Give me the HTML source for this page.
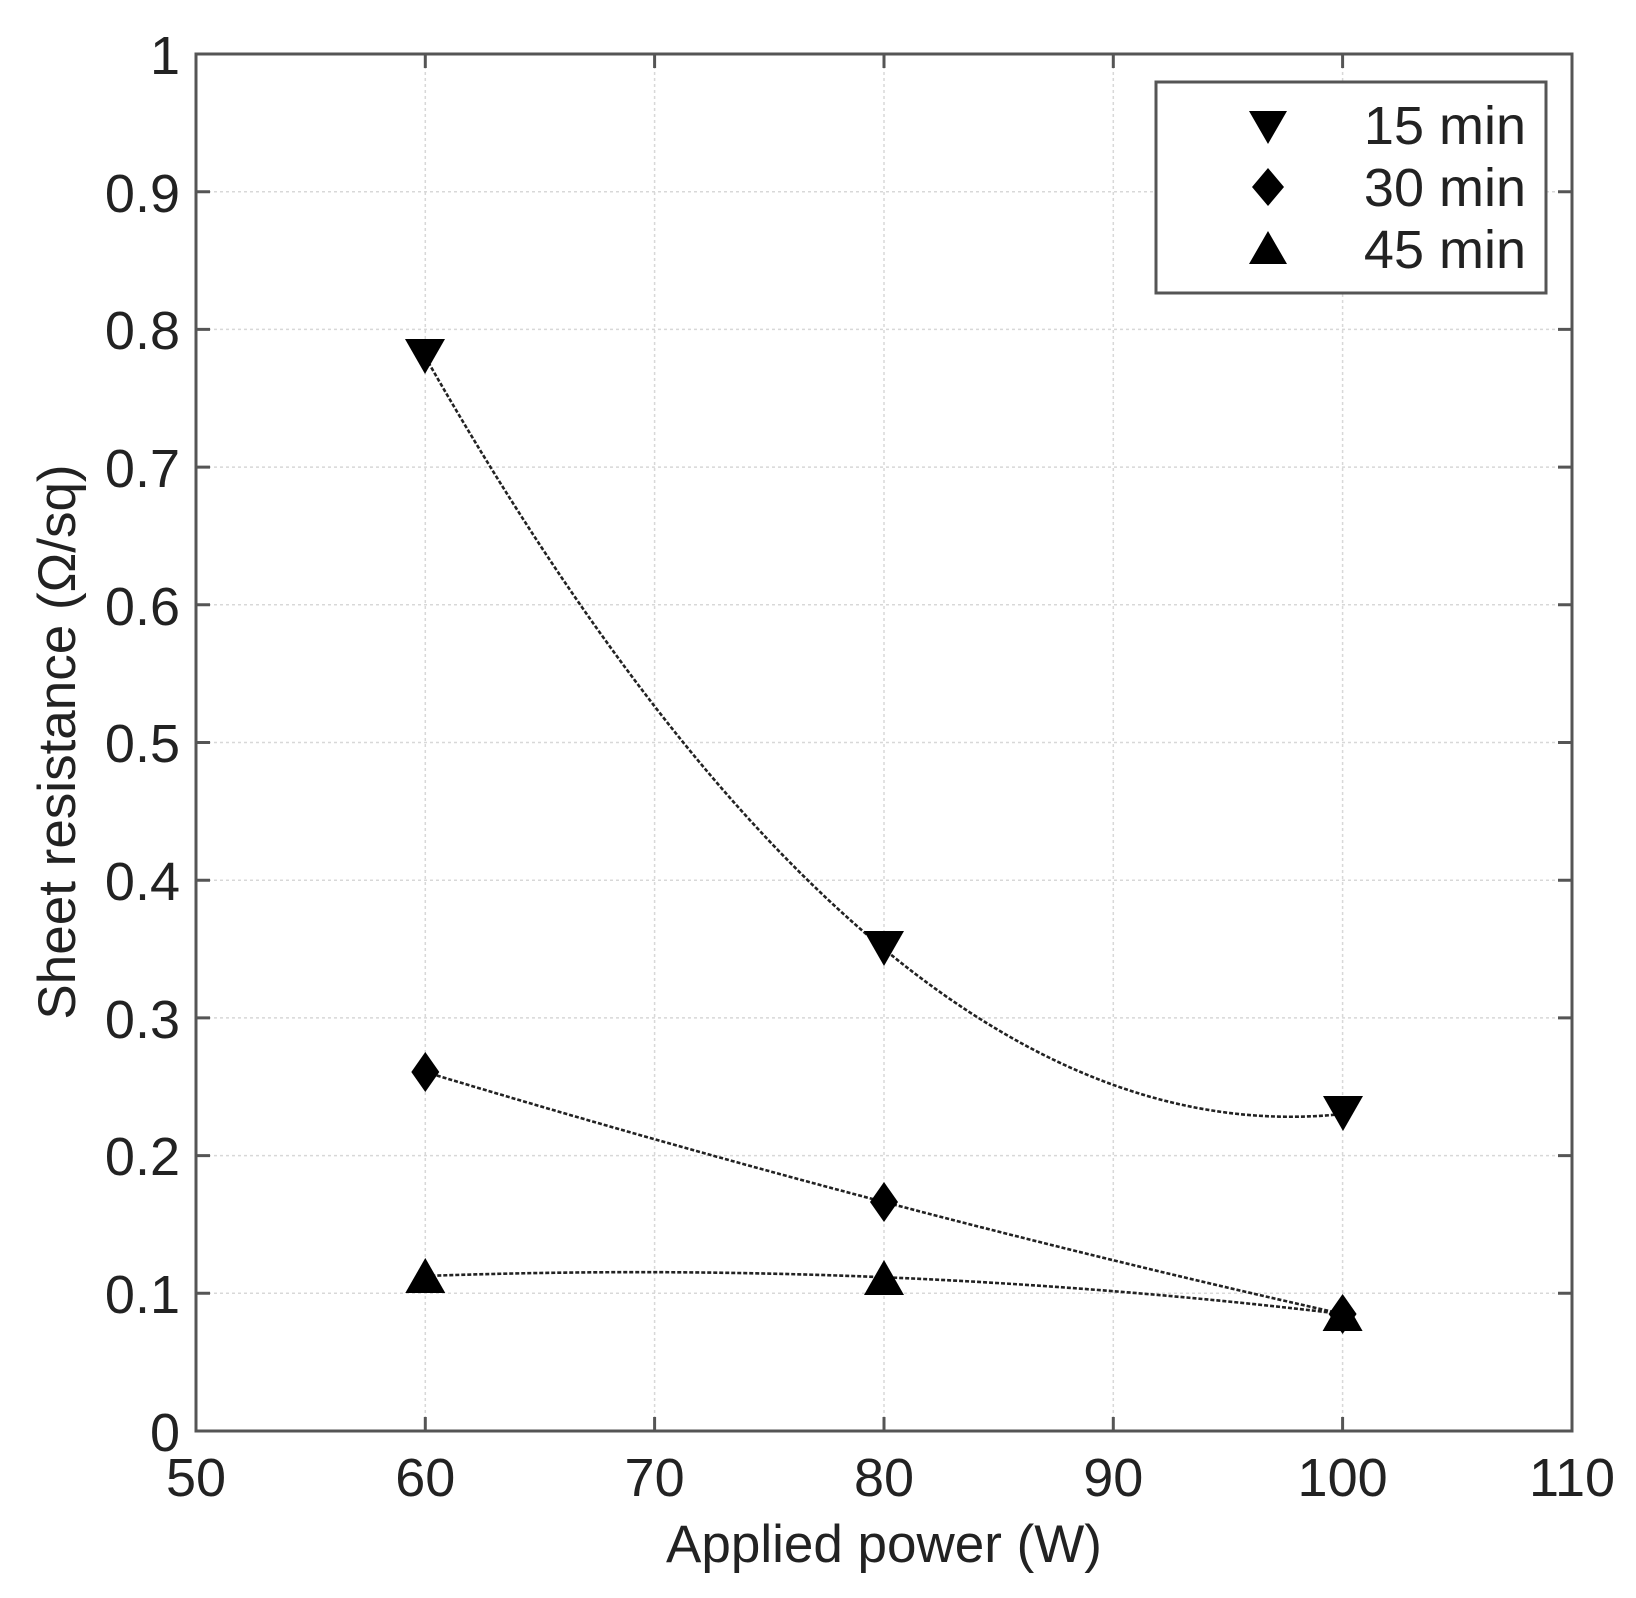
<!DOCTYPE html>
<html><head><meta charset="utf-8"><style>
html,body{margin:0;padding:0;background:#fff}
svg{display:block}
text{font-family:"Liberation Sans",Arial,sans-serif;fill:#222}
</style></head><body>
<svg width="1636" height="1598" viewBox="0 0 1636 1598" xmlns="http://www.w3.org/2000/svg">
<rect width="1636" height="1598" fill="#fff"/>
<g stroke="#d8d8d8" stroke-width="1.5" stroke-dasharray="3,3">
<line x1="425.3" y1="54" x2="425.3" y2="1431"/>
<line x1="654.6" y1="54" x2="654.6" y2="1431"/>
<line x1="884" y1="54" x2="884" y2="1431"/>
<line x1="1113.3" y1="54" x2="1113.3" y2="1431"/>
<line x1="1342.6" y1="54" x2="1342.6" y2="1431"/>
<line x1="196" y1="1293.3" x2="1572" y2="1293.3"/>
<line x1="196" y1="1155.6" x2="1572" y2="1155.6"/>
<line x1="196" y1="1017.9" x2="1572" y2="1017.9"/>
<line x1="196" y1="880.2" x2="1572" y2="880.2"/>
<line x1="196" y1="742.5" x2="1572" y2="742.5"/>
<line x1="196" y1="604.8" x2="1572" y2="604.8"/>
<line x1="196" y1="467.1" x2="1572" y2="467.1"/>
<line x1="196" y1="329.4" x2="1572" y2="329.4"/>
<line x1="196" y1="191.7" x2="1572" y2="191.7"/>
</g>
<g stroke="#555" stroke-width="3">
<rect x="196" y="54" width="1376" height="1377" fill="none"/>
<path d="M425.3 1431v-14M654.6 1431v-14M884 1431v-14M1113.3 1431v-14M1342.6 1431v-14M425.3 54v14M654.6 54v14M884 54v14M1113.3 54v14M1342.6 54v14"/>
<path d="M196 1293.3h14M196 1155.6h14M196 1017.9h14M196 880.2h14M196 742.5h14M196 604.8h14M196 467.1h14M196 329.4h14M196 191.7h14M1572 1293.3h-14M1572 1155.6h-14M1572 1017.9h-14M1572 880.2h-14M1572 742.5h-14M1572 604.8h-14M1572 467.1h-14M1572 329.4h-14M1572 191.7h-14"/>
</g>
<g font-size="54" text-anchor="end">
<text x="180" y="1451">0</text>
<text x="180" y="1313">0.1</text>
<text x="180" y="1175">0.2</text>
<text x="180" y="1038">0.3</text>
<text x="180" y="900">0.4</text>
<text x="180" y="762">0.5</text>
<text x="180" y="625">0.6</text>
<text x="180" y="487">0.7</text>
<text x="180" y="349">0.8</text>
<text x="180" y="212">0.9</text>
<text x="180" y="74">1</text>
</g>
<g font-size="54" text-anchor="middle">
<text x="196" y="1496">50</text>
<text x="425.3" y="1496">60</text>
<text x="654.6" y="1496">70</text>
<text x="884" y="1496">80</text>
<text x="1113.3" y="1496">90</text>
<text x="1342.6" y="1496">100</text>
<text x="1572" y="1496">110</text>
<text x="884" y="1562" font-size="53">Applied power (W)</text>
<text transform="translate(75,742) rotate(-90)" font-size="53">Sheet resistance (Ω/sq)</text>
</g>
<g fill="none" stroke="#222" stroke-width="2.6" stroke-dasharray="4,2">
<path d="M425.3 357 Q884 1162.5 1342.6 1114"/>
<path d="M425.3 1072 Q884 1211 1342.6 1314"/>
<path d="M425.3 1276 Q884 1259.5 1342.6 1314"/>
</g>
<g fill="#000">
<path d="M405 339h40l-20 35z"/>
<path d="M864 931h40l-20 35z"/>
<path d="M1323 1096h40l-20 35z"/>
<path d="M425.3 1052l14 20l-14 20l-14-20z"/>
<path d="M884 1182l14 20l-14 20l-14-20z"/>
<path d="M1342.6 1294l14 20l-14 20l-14-20z"/>
<path d="M425.3 1258l20 35h-40z"/>
<path d="M884 1260l20 35h-40z"/>
<path d="M1342.6 1296l20 35h-40z"/>
</g>
<rect x="1156" y="82" width="390" height="211" fill="#fff" stroke="#555" stroke-width="3"/>
<g fill="#000">
<path d="M1249 111h38l-19 33z"/>
<path d="M1268 168l16 19l-16 19l-16-19z"/>
<path d="M1268 231l19 33h-38z"/>
</g>
<g font-size="54" text-anchor="end">
<text x="1526" y="144">15 min</text>
<text x="1526" y="206">30 min</text>
<text x="1526" y="268">45 min</text>
</g>
</svg>
</body></html>
